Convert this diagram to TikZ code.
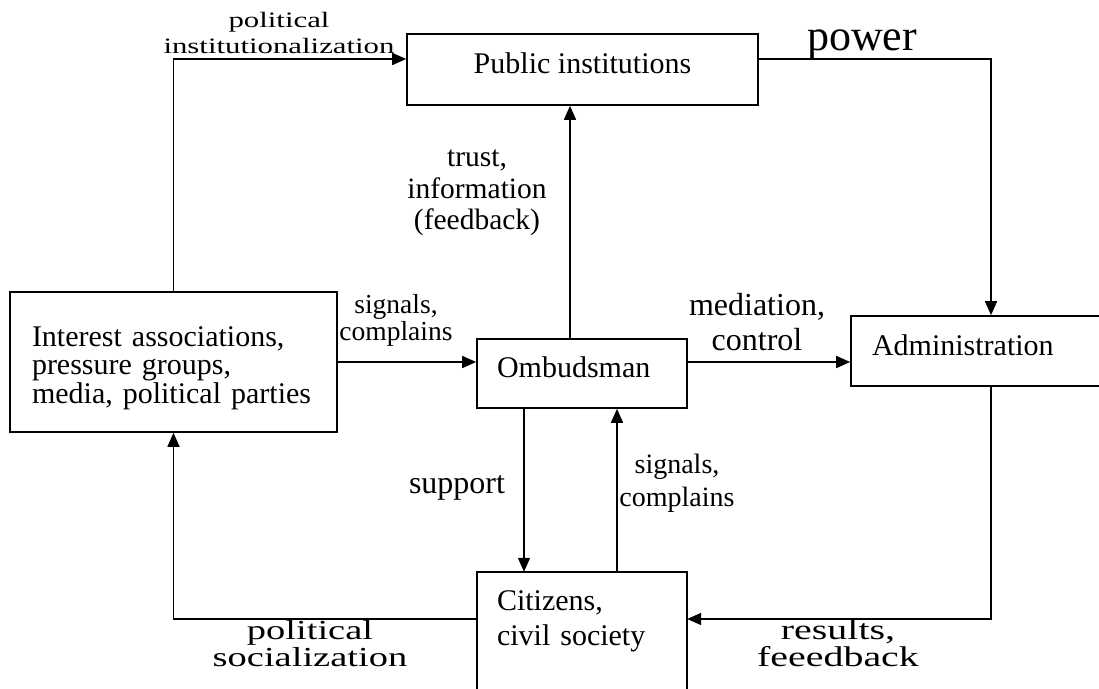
\documentclass[tikz,border=0pt]{standalone}
\usepackage{fontspec}
\setmainfont{Liberation Serif}
\newfontfamily\widefont[FakeStretch=1.4]{Liberation Serif}
\usetikzlibrary{arrows.meta,calc}
\begin{document}
\begin{tikzpicture}[x=1pt,y=-1pt,
  box/.style={draw,line width=1.6pt,inner sep=0pt,font=\fontsize{30}{35}\selectfont},
  edge/.style={line width=1.6pt},
  arr/.style={edge,-{Triangle[length=14pt,width=12pt]}},
  lbl/.style={align=center,inner sep=0pt},
]
\useasboundingbox (0,0) rectangle (1099,688);

% helper coordinates
\coordinate (yT) at (0,59);
\coordinate (yM) at (0,362);
\coordinate (yB) at (0,619);
\coordinate (xR) at (991,0);
\coordinate (xU) at (570,0);
\coordinate (xD) at (524,0);
\coordinate (xC) at (617,0);
\coordinate (bot) at (0,700);

% boxes
\node[box,minimum width=351pt,minimum height=71pt,text height=20.5pt,text depth=13.5pt] (pub) at (582.5,69.5) {Public institutions};
\node[box,minimum width=327pt,minimum height=140pt,align=left,text width=283pt,inner xsep=22pt,font=\fontsize{30}{28.5}\selectfont] (int) at (173.5,362) {\rule{0pt}{31.5pt}Interest associations,\\pressure groups,\\media, political parties};
\node[box,minimum width=210pt,minimum height=69pt,align=left,text width=170pt,inner xsep=20pt,text height=20.5pt,text depth=13.5pt] (omb) at (582,373.5) {Ombudsman};
\node[box,minimum width=250pt,minimum height=70pt,align=left,text width=208pt,inner xsep=21pt,text height=20.5pt,text depth=12.5pt] (adm) at (976,351) {Administration};
\node[inner sep=0pt,minimum width=210pt,minimum height=99pt,align=left,text width=170pt,inner xsep=20pt,font=\fontsize{30}{35}\selectfont] (cit) at (582,621.5) {Citizens,\\civil society};
\draw[edge] (cit.north west |- bot) -- (cit.north west) -- (cit.north east) -- (cit.north east |- bot);

% labels
\node[lbl,font=\widefont\fontsize{22}{26}\selectfont] (lpi) at (279,33) {political\\institutionalization};
\node[lbl,font=\fontsize{44}{50}\selectfont] (lpow) at (862,45) {power};
\node[lbl,font=\fontsize{29.5}{31.5}\selectfont] (ltr) at (477,193) {trust,\\information\\(feedback)};
\node[lbl,font=\fontsize{27.5}{27}\selectfont] (lsc1) at (396,320.5) {signals,\\complains};
\node[lbl,font=\fontsize{32}{35}\selectfont] (lmc) at (757,322.5) {mediation,\\control};
\node[lbl,font=\fontsize{32}{35}\selectfont] (lsup) at (457,488) {support};
\node[lbl,font=\fontsize{28}{33}\selectfont] (lsc2) at (677,483.5) {signals,\\complains};
\node[lbl,font=\widefont\fontsize{27.5}{27}\selectfont] (lps) at (310,643.5) {political\\socialization};
\node[lbl,font=\widefont\fontsize{28.5}{27}\selectfont] (lrf) at (838,643.5) {results,\\feeedback};

% connectors
\draw[arr] (int.north) |- (pub.west |- yT);
\draw[arr] (pub.east |- yT) -| (adm.north -| xR);
\draw[arr] (omb.north -| xU) -- (pub.south -| xU);
\draw[arr] (int.east |- yM) -- (omb.west |- yM);
\draw[arr] (omb.east |- yM) -- (adm.west |- yM);
\draw[arr] (omb.south -| xD) -- (cit.north -| xD);
\draw[arr] (cit.north -| xC) -- (omb.south -| xC);
\draw[arr] (adm.south -| xR) |- (cit.east |- yB);
\draw[arr] (cit.west |- yB) -| (int.south);
\end{tikzpicture}
\end{document}
